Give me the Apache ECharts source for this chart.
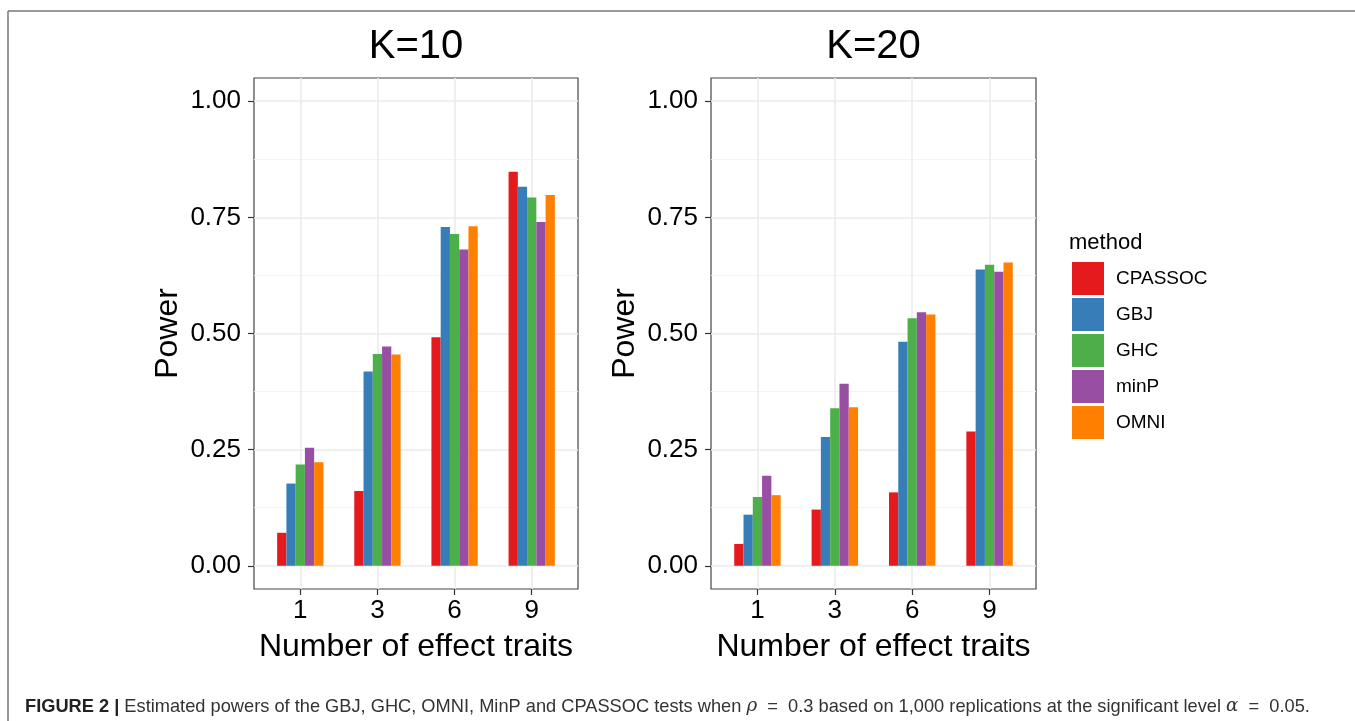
<!DOCTYPE html>
<html><head><meta charset="utf-8">
<script src="https://cdn.jsdelivr.net/npm/echarts@6/dist/echarts.min.js"></script>
<style>html,body{margin:0;padding:0;background:#fff}#c{width:1355px;height:721px}</style>
</head><body><div id="c"></div>
<script>
const categories = ['1', '3', '6', '9'];
const methods = ['CPASSOC', 'GBJ', 'GHC', 'minP', 'OMNI'];
const colors = ['#E41A1C', '#377EB8', '#4DAF4A', '#984EA3', '#FF7F00'];
const panelTitles = ['K=10', 'K=20'];
const yTicks = [0, 0.25, 0.5, 0.75, 1];
const yMinor = [0.125, 0.375, 0.625, 0.875];

// K=10 panel
const k10_CPASSOC = [0.071, 0.161, 0.492, 0.848];
const k10_GBJ     = [0.177, 0.418, 0.729, 0.816];
const k10_GHC     = [0.218, 0.456, 0.714, 0.793];
const k10_minP    = [0.254, 0.472, 0.681, 0.740];
const k10_OMNI    = [0.223, 0.455, 0.731, 0.798];
// K=20 panel
const k20_CPASSOC = [0.047, 0.121, 0.158, 0.289];
const k20_GBJ     = [0.110, 0.277, 0.482, 0.638];
const k20_GHC     = [0.148, 0.339, 0.533, 0.648];
const k20_minP    = [0.194, 0.392, 0.546, 0.633];
const k20_OMNI    = [0.152, 0.341, 0.541, 0.653];

const panels = [
  [k10_CPASSOC, k10_GBJ, k10_GHC, k10_minP, k10_OMNI],
  [k20_CPASSOC, k20_GBJ, k20_GHC, k20_minP, k20_OMNI]
];

const FONT = "'Liberation Sans', Arial, sans-serif";
const gridLeft = [254, 711];
const gridWidth = [324, 325];
const gridTop = 78;
const gridHeight = 511;

const catPos = categories.map((c, i) => i + 1);

const grids = [], xAxes = [], yAxes = [], series = [], titles = [];
panels.forEach((panel, p) => {
  grids.push({left: gridLeft[p], top: gridTop, width: gridWidth[p], height: gridHeight,
    show: true, borderColor: '#444', borderWidth: 1.2, backgroundColor: 'transparent', containLabel: false});
  xAxes.push({
    type: 'value', gridIndex: p, min: 0.4, max: 4.6, position: 'bottom',
    axisLine: {show: false, onZero: false},
    axisTick: {show: true, inside: false, customValues: catPos, length: 6, lineStyle: {color: '#333', width: 1.2}},
    axisLabel: {show: true, customValues: catPos, formatter: v => categories[Math.round(v) - 1],
      fontSize: 26, color: '#000', fontFamily: FONT, margin: 9},
    splitLine: {show: true, lineStyle: {color: '#ebebeb', width: 1.6}},
    name: 'Number of effect traits', nameLocation: 'middle', nameGap: 42,
    nameTextStyle: {fontSize: 32, color: '#000', fontFamily: FONT}
  });
  yAxes.push({
    type: 'value', gridIndex: p, min: -0.05, max: 1.05, position: 'left',
    axisLine: {show: false, onZero: false},
    axisTick: {show: true, inside: false, customValues: yTicks, length: 6, lineStyle: {color: '#333', width: 1.2}},
    axisLabel: {show: true, customValues: yTicks, formatter: v => v.toFixed(2),
      fontSize: 26, color: '#000', fontFamily: FONT, margin: 13},
    splitLine: {show: true, lineStyle: {color: '#ebebeb', width: 1.6}},
    name: 'Power', nameLocation: 'middle', nameGap: 70, nameRotate: 90,
    nameTextStyle: {fontSize: 32, color: '#000', fontFamily: FONT}
  });
  yAxes.push({
    type: 'value', gridIndex: p, min: -0.05, max: 1.05, position: 'left',
    axisLine: {show: false, onZero: false},
    axisTick: {show: false, customValues: yMinor},
    axisLabel: {show: false, customValues: yMinor},
    splitLine: {show: true, lineStyle: {color: '#f2f2f2', width: 0.9}}
  });
  panel.forEach((vals, m) => {
    series.push({
      name: methods[m], type: 'bar', xAxisIndex: p, yAxisIndex: p * 2,
      data: vals.map((v, i) => [catPos[i], v]),
      barCategoryGap: '40%', barGap: '0%',
      itemStyle: {color: colors[m]},
      emphasis: {disabled: true}, animation: false
    });
  });
  titles.push({
    text: panelTitles[p], left: gridLeft[p] + gridWidth[p] / 2, top: 27, textAlign: 'center', padding: 0,
    textStyle: {fontSize: 40, fontWeight: 'normal', color: '#000', fontFamily: FONT}
  });
});

titles.push({
  text: 'method', left: 1069, top: 232, padding: 0,
  textStyle: {fontSize: 22, fontWeight: 'normal', color: '#000', fontFamily: FONT}
});

const CAP_FONT = "'Liberation Sans', Arial, sans-serif";
const chart = echarts.init(document.getElementById('c'), null, {renderer: 'canvas'});
chart.setOption({
  animation: false,
  backgroundColor: '#fff',
  title: titles,
  grid: grids,
  xAxis: xAxes,
  yAxis: yAxes,
  legend: {
    data: methods, orient: 'vertical', left: 1072, top: 262, padding: 0,
    itemWidth: 32, itemHeight: 33, itemGap: 3, icon: 'rect', selectedMode: false,
    textStyle: {fontSize: 19, color: '#000', fontFamily: FONT, padding: [0, 0, 0, 7]}
  },
  series: series,
  graphic: [
    {type: 'line', shape: {x1: 8, y1: 11, x2: 1355, y2: 11}, style: {stroke: '#777', lineWidth: 1.5}},
    {type: 'line', shape: {x1: 8, y1: 11, x2: 8, y2: 721}, style: {stroke: '#777', lineWidth: 1.5}},
    {type: 'text', x: 25, y: 697, scaleX: 0.96, style: {
      text: '{b|FIGURE 2 |} Estimated powers of the GBJ, GHC, OMNI, MinP and CPASSOC tests when {i|ρ}  =  0.3 based on 1,000 replications at the significant level {i|α}  =  0.05.',
      fontSize: 19, fontFamily: CAP_FONT, fill: '#333',
      rich: {
        b: {fontWeight: 'bold', fontSize: 19, fill: '#222', fontFamily: CAP_FONT},
        i: {fontStyle: 'italic', fontSize: 19, fill: '#333', fontFamily: "'DejaVu Serif', serif"}
      }
    }}
  ]
});
</script></body></html>
